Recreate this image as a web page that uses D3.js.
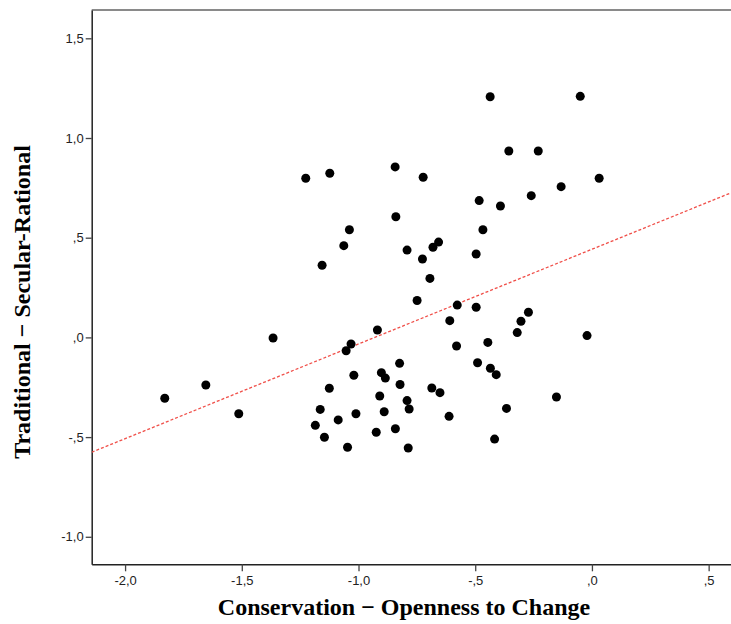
<!DOCTYPE html>
<html lang="en">
<head>
<meta charset="utf-8">
<script src="https://d3js.org/d3.v7.min.js"></script>
<style>
  body { margin: 0; background: #fff; }
  .tick text { font-family: "Liberation Sans", Arial, sans-serif; font-size: 13px; fill: #222; }
  .title { font-family: "Liberation Serif", "Times New Roman", serif; font-weight: bold; font-size: 24px; fill: #000; }
</style>
</head>
<body>
<div id="chart"></div>
<script>
// x = Conservation - Openness to Change, y = Traditional - Secular-Rational
var xVals = [-1.830, -1.654, -1.513, -1.366, -1.226, -1.123, -1.156, -1.063, -1.039, -1.125,
  -1.164, -1.185, -1.146, -1.087, -1.047, -1.053, -1.032, -1.020, -1.011, -0.919,
  -0.902, -0.885, -0.909, -0.890, -0.924, -0.842, -0.824, -0.822, -0.843, -0.840,
  -0.792, -0.792, -0.783, -0.787, -0.749, -0.726, -0.681, -0.657, -0.694, -0.723,
  -0.609, -0.612, -0.577, -0.580, -0.496, -0.496, -0.483, -0.467, -0.436, -0.392,
  -0.356, -0.260, -0.230, -0.132, -0.050, 0.031, -0.490, -0.446, -0.435, -0.410,
  -0.417, -0.366, -0.320, -0.304, -0.272, -0.152, -0.021, -0.686, -0.651];
var yVals = [-0.305, -0.239, -0.383, -0.003, 0.798, 0.823, 0.362, 0.460, 0.540, -0.255,
  -0.361, -0.441, -0.501, -0.414, -0.551, -0.067, -0.033, -0.190, -0.383, 0.037,
  -0.177, -0.204, -0.294, -0.373, -0.476, -0.458, -0.130, -0.236, 0.855, 0.605,
  0.438, -0.317, -0.359, -0.555, 0.185, 0.393, 0.452, 0.478, 0.296, 0.803,
  0.084, -0.396, 0.162, -0.043, 0.151, 0.418, 0.686, 0.540, 1.207, 0.659,
  0.935, 0.711, 0.935, 0.756, 1.209, 0.798, -0.127, -0.025, -0.155, -0.187,
  -0.510, -0.356, 0.024, 0.081, 0.126, -0.299, 0.009, -0.254, -0.277];

var xTicks = [-2.0, -1.5, -1.0, -0.5, 0.0, 0.5];
var yTicks = [-1.0, -0.5, 0.0, 0.5, 1.0, 1.5];

// fitted line y = a + b*x
var fitIntercept = 0.442;
var fitSlope = 0.475;

var W = 731, H = 624;
var plotLeft = 91.7, plotTop = 10, plotBottom = 564.3, plotRight = 760;

var x = d3.scaleLinear().domain([-2.143, 0.72]).range([plotLeft, plotRight]);
var y = d3.scaleLinear().domain([-1.138, 1.642]).range([plotBottom, plotTop]);

function spss(d) {
  var s = d3.format(".1f")(Math.abs(d)).replace(".", ",");
  if (s.charAt(0) === "0") s = s.slice(1);
  return (d < 0 ? "-" : "") + s;
}

var svg = d3.select("#chart").append("svg")
  .attr("width", W).attr("height", H);

svg.append("defs").append("clipPath").attr("id", "plotclip")
  .append("rect").attr("x", plotLeft).attr("y", plotTop)
  .attr("width", plotRight - plotLeft).attr("height", plotBottom - plotTop);

// top frame line
svg.append("line")
  .attr("x1", plotLeft).attr("x2", W).attr("y1", plotTop).attr("y2", plotTop)
  .attr("stroke", "#8a8a8a").attr("stroke-width", 2);

var xAxis = d3.axisBottom(x).tickValues(xTicks).tickFormat(spss)
  .tickSize(7).tickSizeOuter(0).tickPadding(4);
var gx = svg.append("g").attr("transform", "translate(0," + plotBottom + ")").call(xAxis);
gx.select(".domain").attr("stroke", "#222").attr("stroke-width", 1.5);
gx.selectAll(".tick line").attr("stroke", "#444").attr("stroke-width", 1.3);

var yAxis = d3.axisLeft(y).tickValues(yTicks).tickFormat(spss)
  .tickSize(6).tickSizeOuter(0).tickPadding(2);
var gy = svg.append("g").attr("transform", "translate(" + plotLeft + ",0)").call(yAxis);
gy.select(".domain").attr("stroke", "#222").attr("stroke-width", 1.5);
gy.selectAll(".tick line").attr("stroke", "#444").attr("stroke-width", 1.3);

// regression line
var xd = x.domain();
svg.append("line")
  .attr("clip-path", "url(#plotclip)")
  .attr("x1", x(xd[0])).attr("y1", y(fitIntercept + fitSlope * xd[0]))
  .attr("x2", x(xd[1])).attr("y2", y(fitIntercept + fitSlope * xd[1]))
  .attr("stroke", "#f0504a").attr("stroke-width", 1.3)
  .attr("stroke-dasharray", "3,2");

svg.append("g").selectAll("circle")
  .data(xVals.map(function(d, i) { return [d, yVals[i]]; }))
  .enter().append("circle")
  .attr("cx", function(d) { return x(d[0]); })
  .attr("cy", function(d) { return y(d[1]); })
  .attr("r", 4.5)
  .attr("fill", "#000");

svg.append("text").attr("class", "title")
  .attr("x", 404).attr("y", 615).attr("text-anchor", "middle")
  .text("Conservation \u2212 Openness to Change");

svg.append("text").attr("class", "title")
  .attr("transform", "translate(30,302) rotate(-90)")
  .attr("text-anchor", "middle")
  .text("Traditional \u2212 Secular-Rational");
</script>
</body>
</html>
